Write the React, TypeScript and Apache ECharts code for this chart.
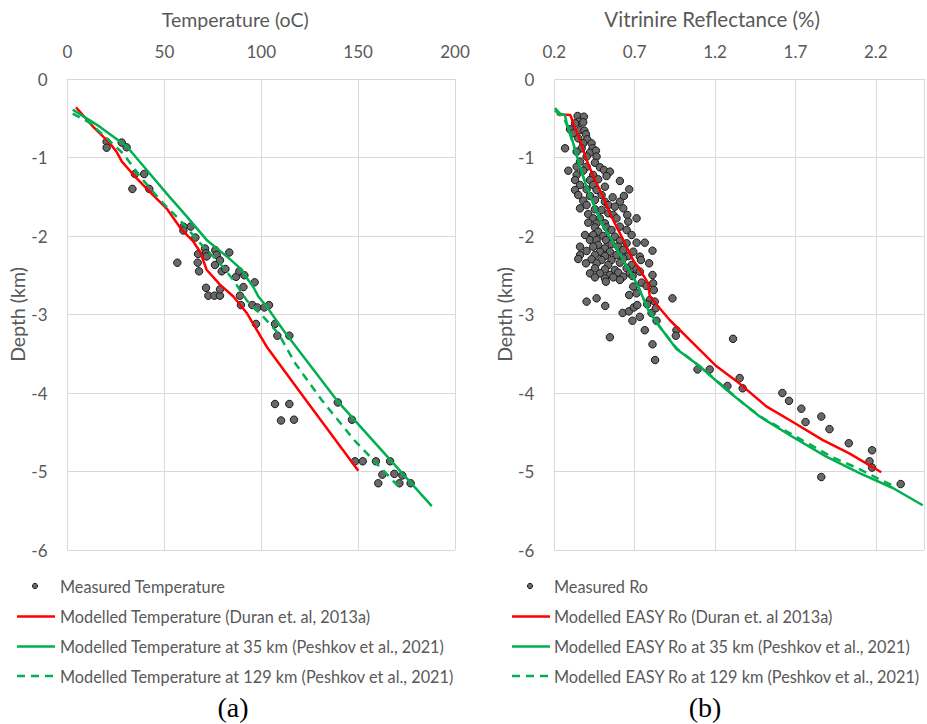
import React, { useEffect, useRef } from "react";
import * as echarts from "echarts";

// ---------- data ----------
const tempTicks = [0, 50, 100, 150, 200];
const roTicks = [0.2, 0.7, 1.2, 1.7, 2.2];
const depthTicks = [0, -1, -2, -3, -4, -5, -6];

// [temperature (oC), depth (km)]
const measuredTemperature: number[][] = [
  [20.2, -0.8], [20.2, -0.875], [28.0, -0.81], [30.5, -0.87], [34.8, -1.21], [39.6, -1.21],
  [33.5, -1.4], [42.2, -1.4], [59.8, -1.88], [63.6, -1.88], [59.8, -1.93], [66.0, -2.02],
  [56.7, -2.34], [67.4, -2.23], [71.0, -2.16], [71.5, -2.22], [71.8, -2.26], [67.2, -2.34],
  [67.9, -2.45], [76.3, -2.18], [77.0, -2.24], [78.7, -2.31], [76.1, -2.37], [79.6, -2.45],
  [81.5, -2.42], [83.5, -2.21], [71.5, -2.66], [72.7, -2.76], [75.8, -2.76], [78.7, -2.76],
  [78.7, -2.68], [87.0, -2.52], [88.7, -2.45], [91.3, -2.5], [90.8, -2.65], [89.0, -2.76],
  [89.5, -2.88], [96.6, -2.59], [95.4, -2.88], [98.0, -2.91], [101.6, -2.91], [104.0, -2.88],
  [97.3, -3.12], [107.1, -3.12], [108.3, -3.27], [114.5, -3.27], [107.1, -4.14], [114.5, -4.14],
  [110.2, -4.35], [116.9, -4.34], [139.5, -4.12], [146.8, -4.34], [148.4, -4.87], [152.4, -4.87],
  [159.2, -4.87], [166.5, -4.87], [162.5, -5.04], [168.7, -5.03], [172.8, -5.05], [160.4, -5.15],
  [171.3, -5.15], [177.1, -5.15],
];

const tempDuran: number[][] = [
  [4.4, -0.36], [13.3, -0.61], [21.9, -0.82], [25.4, -0.93], [28.0, -1.05], [34.0, -1.22],
  [42.6, -1.44], [51.2, -1.65], [58.9, -1.92], [64.9, -2.07], [68.4, -2.2], [71.8, -2.43],
  [78.7, -2.62], [85.6, -2.77], [92.5, -2.98], [102.8, -3.41], [123.3, -4.1], [150.1, -4.99],
];

const temp35km: number[][] = [
  [2.7, -0.39], [16.8, -0.61], [30.6, -0.86], [40.9, -1.16], [51.2, -1.46], [61.5, -1.75],
  [71.8, -2.05], [82.2, -2.26], [89.0, -2.41], [95.9, -2.65], [98.5, -2.77], [102.8, -2.9],
  [111.4, -3.2], [138.9, -4.09], [188.0, -5.44],
];

const temp129km: number[][] = [
  [2.7, -0.44], [11.6, -0.56], [28.8, -0.95], [37.4, -1.24], [47.7, -1.54], [58.1, -1.8],
  [68.4, -2.09], [78.7, -2.35], [85.6, -2.56], [92.5, -2.82], [101.1, -3.03], [108.8, -3.24],
  [117.5, -3.62], [131.2, -4.09], [148.0, -4.6], [171.6, -5.21],
];

// [Ro (%), depth (km)]
const measuredRo: number[][] = [
  [0.345, -0.471], [0.384, -0.48], [0.353, -0.543], [0.38, -0.552], [0.329, -0.565], [0.298, -0.641],
  [0.36, -0.65], [0.387, -0.658], [0.318, -0.692], [0.397, -0.705], [0.349, -0.756], [0.405, -0.769],
  [0.38, -0.82], [0.432, -0.82], [0.267, -0.883], [0.37, -0.883], [0.438, -0.883], [0.339, -0.926],
  [0.422, -0.938], [0.459, -0.913], [0.401, -0.989], [0.463, -0.989], [0.36, -1.053], [0.453, -1.066],
  [0.339, -1.117], [0.401, -1.117], [0.484, -1.125], [0.287, -1.168], [0.38, -1.168], [0.509, -1.159],
  [0.546, -1.18], [0.339, -1.223], [0.442, -1.223], [0.525, -1.236], [0.329, -1.287], [0.422, -1.287],
  [0.473, -1.278], [0.608, -1.299], [0.36, -1.35], [0.442, -1.35], [0.515, -1.372], [0.329, -1.414],
  [0.401, -1.406], [0.463, -1.414], [0.666, -1.406], [0.349, -1.478], [0.422, -1.49], [0.494, -1.478],
  [0.563, -1.507], [0.633, -1.49], [0.38, -1.55], [0.453, -1.541], [0.515, -1.563], [0.608, -1.563],
  [0.401, -1.605], [0.536, -1.605], [0.577, -1.626], [0.36, -1.648], [0.453, -1.66], [0.494, -1.669],
  [0.629, -1.648], [0.411, -1.72], [0.536, -1.711], [0.567, -1.732], [0.654, -1.732], [0.442, -1.775],
  [0.484, -1.775], [0.587, -1.775], [0.712, -1.775], [0.411, -1.83], [0.463, -1.839], [0.515, -1.839],
  [0.66, -1.817], [0.453, -1.89], [0.525, -1.89], [0.608, -1.881], [0.473, -1.945], [0.556, -1.924],
  [0.65, -1.924], [0.391, -1.987], [0.442, -1.987], [0.505, -2.0], [0.577, -2.008], [0.681, -1.987],
  [0.422, -2.051], [0.463, -2.051], [0.521, -2.051], [0.608, -2.059], [0.473, -2.115], [0.556, -2.102],
  [0.65, -2.093], [0.712, -2.085], [0.763, -2.085], [0.36, -2.136], [0.442, -2.136], [0.515, -2.157],
  [0.598, -2.136], [0.401, -2.191], [0.484, -2.2], [0.546, -2.2], [0.629, -2.178], [0.691, -2.2],
  [0.811, -2.187], [0.36, -2.242], [0.453, -2.242], [0.515, -2.255], [0.587, -2.242], [0.66, -2.255],
  [0.732, -2.263], [0.349, -2.293], [0.432, -2.297], [0.494, -2.306], [0.556, -2.306], [0.629, -2.285],
  [0.739, -2.306], [0.397, -2.348], [0.463, -2.348], [0.536, -2.369], [0.608, -2.34], [0.681, -2.369],
  [0.79, -2.348], [0.453, -2.412], [0.515, -2.425], [0.577, -2.433], [0.65, -2.412], [0.712, -2.425],
  [0.422, -2.476], [0.484, -2.476], [0.546, -2.497], [0.598, -2.467], [0.67, -2.476], [0.732, -2.454],
  [0.811, -2.497], [0.453, -2.527], [0.515, -2.539], [0.567, -2.527], [0.629, -2.518], [0.687, -2.509],
  [0.521, -2.582], [0.608, -2.56], [0.743, -2.594], [0.815, -2.603], [0.691, -2.645], [0.774, -2.637],
  [0.666, -2.752], [0.712, -2.73], [0.819, -2.688], [0.935, -2.794], [0.401, -2.836], [0.463, -2.794],
  [0.794, -2.815], [0.825, -2.836], [0.517, -2.89], [0.546, -3.29], [0.625, -2.98], [0.664, -2.96],
  [0.695, -2.91], [0.716, -2.88], [0.686, -3.08], [0.732, -3.03], [0.763, -3.2], [0.778, -2.87],
  [0.805, -2.98], [0.832, -2.92], [0.836, -3.08], [0.811, -3.38], [0.827, -3.58], [0.96, -3.2],
  [0.956, -3.27], [1.091, -3.7], [1.167, -3.7], [1.277, -3.91], [1.353, -3.81], [1.372, -3.94],
  [1.312, -3.31], [1.619, -4.0], [1.66, -4.1], [1.737, -4.2], [1.763, -4.37], [1.861, -4.3],
  [1.912, -4.46], [2.032, -4.64], [2.177, -4.73], [2.161, -4.87], [2.177, -4.95], [1.861, -5.07],
  [2.355, -5.16],
];

const roDuran: number[][] = [
  [0.215, -0.45], [0.3, -0.46], [0.318, -0.56], [0.36, -0.78], [0.4, -1.03], [0.453, -1.29],
  [0.504, -1.5], [0.546, -1.71], [0.587, -1.88], [0.629, -2.05], [0.691, -2.31], [0.732, -2.43],
  [0.784, -2.6], [0.794, -2.77], [0.918, -3.07], [1.085, -3.41], [1.209, -3.66], [1.353, -3.88],
  [1.519, -4.17], [1.684, -4.37], [1.871, -4.6], [2.035, -4.77], [2.234, -5.01],
];

const ro35km: number[][] = [
  [0.204, -0.37], [0.235, -0.44], [0.266, -0.46], [0.277, -0.56], [0.318, -0.82], [0.36, -1.12],
  [0.4, -1.37], [0.442, -1.58], [0.494, -1.84], [0.557, -2.05], [0.629, -2.31], [0.691, -2.52],
  [0.732, -2.69], [0.784, -2.94], [0.857, -3.16], [0.96, -3.44], [1.105, -3.66], [1.271, -3.96],
  [1.478, -4.3], [1.684, -4.56], [1.892, -4.81], [2.099, -5.02], [2.306, -5.21], [2.492, -5.43],
];

const ro129km: number[][] = [
  [0.204, -0.4], [0.24, -0.47], [0.262, -0.5], [0.28, -0.6], [0.318, -0.83], [0.36, -1.12],
  [0.4, -1.37], [0.442, -1.58], [0.494, -1.84], [0.557, -2.05], [0.629, -2.31], [0.691, -2.52],
  [0.732, -2.69], [0.784, -2.94], [0.857, -3.16], [0.96, -3.43], [1.105, -3.66], [1.271, -3.95],
  [1.39, -4.16], [1.497, -4.32], [1.602, -4.44], [1.768, -4.63], [1.933, -4.82], [2.099, -4.97],
  [2.223, -5.1], [2.316, -5.19],
];

const leftLegend = [
  "Measured Temperature",
  "Modelled Temperature (Duran et. al, 2013a)",
  "Modelled Temperature at 35 km (Peshkov et al., 2021)",
  "Modelled Temperature at 129 km (Peshkov et al., 2021)",
];
const rightLegend = [
  "Measured Ro",
  "Modelled EASY Ro (Duran et. al 2013a)",
  "Modelled EASY Ro at 35 km (Peshkov et al., 2021)",
  "Modelled EASY Ro at 129 km (Peshkov et al., 2021)",
];

// ---------- styles ----------
const FONT = "Lato, 'Open Sans', sans-serif";
const TXT = "#595959";
const GRID = "#d9d9d9";
const RED = "#ff0000";
const GREEN = "#00b050";
const DOT_FILL = "#696969";
const DOT_EDGE = "#1a1a1a";

function legendGraphics(names: string[], lineX1: number, lineX2: number, dotX: number, textX: number) {
  const ys = [586, 616.5, 646.5, 676];
  const els: any[] = [];
  els.push({
    type: "circle",
    shape: { cx: dotX, cy: ys[0], r: 2.6 },
    style: { fill: DOT_FILL, stroke: DOT_EDGE, lineWidth: 1 },
  });
  const lineStyles = [
    { stroke: RED, lineWidth: 2.5 },
    { stroke: GREEN, lineWidth: 2.5 },
    { stroke: GREEN, lineWidth: 2.5, lineDash: [8, 6] },
  ];
  lineStyles.forEach((st, i) => {
    els.push({
      type: "line",
      shape: { x1: lineX1, y1: ys[i + 1], x2: lineX2, y2: ys[i + 1] },
      style: st,
    });
  });
  names.forEach((n, i) => {
    els.push({
      type: "text",
      x: textX,
      y: ys[i],
      style: { text: n, fill: TXT, fontSize: 16.3, fontFamily: FONT, verticalAlign: "middle", align: "left" },
    });
  });
  return els;
}

export default function App() {
  const ref = useRef<HTMLDivElement>(null);

  useEffect(() => {
    if (!ref.current) return;
    const chart = echarts.init(ref.current, undefined, { renderer: "svg" });

    const labelStyle = { fontSize: 17, color: TXT, fontFamily: FONT };
    const nameStyle = { fontSize: 19.5, color: TXT, fontFamily: FONT };
    const split = { show: true, lineStyle: { color: GRID, width: 1 } };

    const lineSeries = (name: string, data: number[][], idx: number, color: string, dashed: boolean) => ({
      type: "line",
      name,
      data,
      xAxisIndex: idx,
      yAxisIndex: idx,
      showSymbol: false,
      symbol: "none",
      smooth: false,
      lineStyle: { color, width: 2.5, type: dashed ? [8, 6] : "solid" },
      itemStyle: { color },
      z: 3,
    });

    const scatterSeries = (name: string, data: number[][], idx: number) => ({
      type: "scatter",
      name,
      data,
      xAxisIndex: idx,
      yAxisIndex: idx,
      symbol: "circle",
      symbolSize: 7.5,
      itemStyle: { color: DOT_FILL, borderColor: DOT_EDGE, borderWidth: 1, opacity: 1 },
      z: 2,
    });

    chart.setOption({
      animation: false,
      backgroundColor: "#ffffff",
      textStyle: { fontFamily: FONT },
      grid: [
        { left: 67.5, top: 79, width: 387.5, height: 471 },
        { left: 554.3, top: 79, width: 370, height: 471 },
      ],
      xAxis: [
        {
          type: "value",
          gridIndex: 0,
          position: "top",
          min: tempTicks[0],
          max: tempTicks[tempTicks.length - 1],
          interval: 50,
          name: "Temperature (oC)",
          nameLocation: "middle",
          nameGap: 50,
          nameTextStyle: { ...nameStyle, padding: [0, 52, 0, 0] },
          axisLabel: { ...labelStyle, margin: 19 },
          axisLine: { show: false },
          axisTick: { show: false },
          splitLine: split,
        },
        {
          type: "value",
          gridIndex: 1,
          position: "top",
          min: roTicks[0],
          max: 2.5,
          interval: 0.5,
          name: "Vitrinire Reflectance (%)",
          nameLocation: "middle",
          nameGap: 50,
          nameTextStyle: { ...nameStyle, fontSize: 20.5, padding: [0, 54, 0, 0] },
          axisLabel: {
            ...labelStyle,
            margin: 19,
            formatter: (v: number) => {
              const t = roTicks.find((r) => Math.abs(r - v) < 1e-6);
              return t === undefined ? "" : t.toFixed(1);
            },
          },
          axisLine: { show: false },
          axisTick: { show: false },
          splitLine: split,
        },
      ],
      yAxis: [0, 1].map((i) => ({
        type: "value",
        gridIndex: i,
        min: depthTicks[depthTicks.length - 1],
        max: depthTicks[0],
        interval: 1,
        name: "Depth (km)",
        nameLocation: "middle",
        nameGap: 40,
        nameTextStyle: nameStyle,
        axisLabel: { ...labelStyle, margin: 20 },
        axisLine: { show: false },
        axisTick: { show: false },
        splitLine: split,
      })),
      series: [
        scatterSeries(leftLegend[0], measuredTemperature, 0),
        lineSeries(leftLegend[1], tempDuran, 0, RED, false),
        lineSeries(leftLegend[2], temp35km, 0, GREEN, false),
        lineSeries(leftLegend[3], temp129km, 0, GREEN, true),
        scatterSeries(rightLegend[0], measuredRo, 1),
        lineSeries(rightLegend[1], roDuran, 1, RED, false),
        lineSeries(rightLegend[2], ro35km, 1, GREEN, false),
        lineSeries(rightLegend[3], ro129km, 1, GREEN, true),
      ],
      graphic: [
        ...legendGraphics(leftLegend, 17, 55, 35, 60),
        ...legendGraphics(rightLegend, 512, 550, 530, 554),
        {
          type: "text",
          x: 233,
          y: 707,
          style: { text: "(a)", fill: "#000", fontSize: 28, fontFamily: "'Liberation Serif', 'Times New Roman', serif", align: "center", verticalAlign: "middle" },
        },
        {
          type: "text",
          x: 705,
          y: 707,
          style: { text: "(b)", fill: "#000", fontSize: 28, fontFamily: "'Liberation Serif', 'Times New Roman', serif", align: "center", verticalAlign: "middle" },
        },
      ],
    });

    return () => chart.dispose();
  }, []);

  return (
    <div
      ref={ref}
      style={{ position: "fixed", left: 0, top: 0, width: 927, height: 724, background: "#fff" }}
    />
  );
}
